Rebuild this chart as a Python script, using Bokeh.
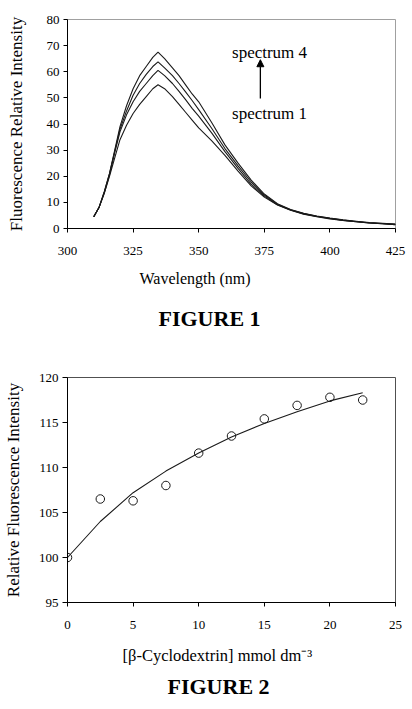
from bokeh.plotting import figure
from bokeh.layouts import column
from bokeh.models import Range1d, FixedTicker, Label, Arrow, NormalHead, Title
from bokeh.embed import file_html
from bokeh.resources import INLINE

# ---------------- data: FIGURE 1 (fluorescence spectra) ----------------
wavelength = [310, 312, 314, 316, 318, 320, 322.5, 325, 327.5, 330, 332.5, 334.5, 337,
              340, 342.5, 345, 347.5, 350, 355, 360, 365, 370, 375, 380, 385, 390, 395,
              400, 405, 410, 415, 420, 425]
spectrum_1 = [4.5, 8.0, 13.5, 20.0, 27.0, 34.0, 39.5, 44.0, 47.5, 50.5, 53.5, 55.0, 53.5,
              50.5, 47.5, 44.5, 41.5, 38.5, 33.5, 28.0, 22.0, 16.3, 12.0, 9.0, 7.0, 5.5, 4.5,
              3.7, 3.1, 2.6, 2.1, 1.8, 1.5]
spectrum_2 = [4.5, 8.0, 13.5, 20.5, 29.0, 37.0, 43.5, 48.5, 52.5, 55.5, 58.5, 60.5, 58.5,
              55.5, 52.5, 49.3, 46.0, 43.0, 36.5, 29.4, 23.0, 17.0, 12.4, 9.1, 7.1, 5.6, 4.6,
              3.8, 3.1, 2.6, 2.1, 1.8, 1.5]
spectrum_3 = [4.5, 8.0, 14.0, 21.0, 29.5, 38.0, 45.0, 51.0, 55.5, 59.0, 62.0, 63.8, 61.5,
              58.5, 55.5, 52.3, 49.0, 45.5, 38.3, 30.6, 24.0, 17.8, 12.8, 9.3, 7.2, 5.7, 4.7,
              3.9, 3.2, 2.7, 2.2, 1.9, 1.6]
spectrum_4 = [4.5, 8.0, 14.0, 21.0, 30.0, 39.0, 47.0, 53.5, 58.5, 62.0, 65.5, 67.5, 65.0,
              61.5, 58.5, 55.0, 51.5, 48.5, 40.5, 32.0, 25.0, 18.5, 13.2, 9.5, 7.3, 5.8, 4.8,
              4.0, 3.3, 2.8, 2.3, 2.0, 1.7]
fig1_xticks = [300, 325, 350, 375, 400, 425]
fig1_yticks = [0, 10, 20, 30, 40, 50, 60, 70, 80]

# ---------------- data: FIGURE 2 (titration) ----------------
concentration = [0, 2.5, 5, 7.5, 10, 12.5, 15, 17.5, 20, 22.5]
rel_intensity = [100.0, 106.5, 106.3, 108.0, 111.6, 113.5, 115.4, 116.9, 117.8, 117.5]
fit_concentration = [0, 2.5, 5, 7.5, 10, 12.5, 15, 17.5, 20, 22.5]
fit_intensity = [100.0, 104.0, 107.2, 109.6, 111.6, 113.4, 114.9, 116.2, 117.4, 118.3]
fig2_xticks = [0, 5, 10, 15, 20, 25]
fig2_yticks = [95, 100, 105, 110, 115, 120]

FONT = "Liberation Serif"
INK = "#1a1a1a"


def style_axes(p, xticks, yticks, ylabel, ylabel_standoff):
    p.xgrid.visible = False
    p.ygrid.visible = False
    p.background_fill_color = "white"
    p.border_fill_color = "white"
    p.xaxis.ticker = FixedTicker(ticks=xticks)
    p.yaxis.ticker = FixedTicker(ticks=yticks)
    for ax in (p.xaxis[0], p.yaxis[0]):
        ax.axis_line_color = "black"
        ax.major_tick_line_color = "black"
        ax.major_tick_in = 0
        ax.major_tick_out = 4
        ax.minor_tick_line_color = None
        ax.major_label_text_font = FONT
        ax.major_label_text_font_size = "13px"
        ax.major_label_text_color = "black"
    p.xaxis.major_label_standoff = 14
    p.yaxis.major_label_standoff = 4
    p.yaxis.axis_label = ylabel
    p.yaxis.axis_label_text_font = FONT
    p.yaxis.axis_label_text_font_size = "17px"
    p.yaxis.axis_label_text_font_style = "normal"
    p.yaxis.axis_label_text_color = "black"
    p.yaxis.axis_label_standoff = ylabel_standoff


def caption(text, size, bold, offset, standoff):
    return Title(text=text, align="left", offset=offset, standoff=standoff,
                 text_font=FONT, text_font_size=size,
                 text_font_style="bold" if bold else "normal", text_color="black")


# ---------------- FIGURE 1 ----------------
p1 = figure(width=412, height=345, x_range=Range1d(300, 425), y_range=Range1d(0, 80),
            output_backend="svg", toolbar_location=None,
            min_border_left=65, min_border_right=4, min_border_top=19, min_border_bottom=117)
style_axes(p1, fig1_xticks, fig1_yticks, "Fluorescence Relative Intensity", 18)
p1.outline_line_color = "#a0a0a0"

for s in (spectrum_1, spectrum_2, spectrum_3, spectrum_4):
    p1.line(wavelength, s, line_color=INK, line_width=1.1)

p1.add_layout(Label(x=362.7, y=67.4, text="spectrum 4", text_font=FONT, text_font_size="17px",
                    text_baseline="middle", text_align="left", text_color="black"))
p1.add_layout(Label(x=362.7, y=44.0, text="spectrum 1", text_font=FONT, text_font_size="17px",
                    text_baseline="middle", text_align="left", text_color="black"))
p1.add_layout(Arrow(end=NormalHead(size=7, fill_color="black", line_color="black"),
                    x_start=373.5, y_start=49.8, x_end=373.5, y_end=64.6,
                    line_color="black", line_width=1.3))
p1.add_layout(caption("Wavelength (nm)", "16px", False, 72, 20), "below")
p1.add_layout(caption("FIGURE 1", "22px", True, 91, 14), "below")

# ---------------- FIGURE 2 ----------------
p2 = figure(width=412, height=364, x_range=Range1d(0, 25), y_range=Range1d(95, 120),
            output_backend="svg", toolbar_location=None,
            min_border_left=67, min_border_right=17, min_border_top=32, min_border_bottom=107)
style_axes(p2, fig2_xticks, fig2_yticks, "Relative Fluorescence Intensity", 13)
p2.yaxis.major_tick_out = 5
p2.outline_line_color = "#505050"

p2.line(fit_concentration, fit_intensity, line_color=INK, line_width=1.1)
p2.scatter(concentration, rel_intensity, marker="circle", size=8.5, fill_color=None,
           line_color=INK, line_width=1)

p2.add_layout(caption("[β-Cyclodextrin] mmol dm⁻³", "16.5px", False, 55, 24), "below")
p2.add_layout(caption("FIGURE 2", "22px", True, 100, -10), "below")

layout = column(p1, p2, spacing=0)
open("out.html", "w").write(file_html(layout, INLINE))
